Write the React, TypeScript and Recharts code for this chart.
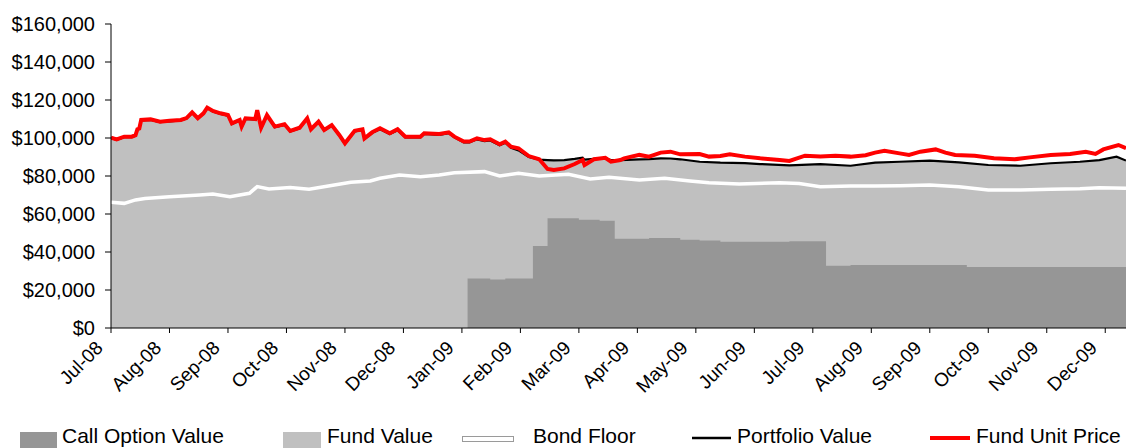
import React from 'react';
import { ComposedChart, Area, Line, XAxis, YAxis } from 'recharts';

// Month tick labels (one per month start)
const MONTH_LABELS = [
  'Jul-08', 'Aug-08', 'Sep-08', 'Oct-08', 'Nov-08', 'Dec-08',
  'Jan-09', 'Feb-09', 'Mar-09', 'Apr-09', 'May-09', 'Jun-09',
  'Jul-09', 'Aug-09', 'Sep-09', 'Oct-09', 'Nov-09', 'Dec-09',
];
const LAST_DATE = '2009-12-12';

// Y ticks, in $ thousands
const Y_TICKS = [0, 20, 40, 60, 80, 100, 120, 140, 160];

// Fund Unit Price ($ thousands)
const PRICE_DATES = [
  '2008-07-01', '2008-07-04', '2008-07-08', '2008-07-12', '2008-07-14', '2008-07-15', '2008-07-16', '2008-07-17',
  '2008-07-22', '2008-07-27', '2008-08-01', '2008-08-07', '2008-08-10', '2008-08-13', '2008-08-16', '2008-08-19',
  '2008-08-21', '2008-08-24', '2008-08-28', '2008-09-01', '2008-09-03', '2008-09-07', '2008-09-08', '2008-09-10',
  '2008-09-15', '2008-09-16', '2008-09-18', '2008-09-21', '2008-09-25', '2008-09-30', '2008-10-03', '2008-10-08',
  '2008-10-12', '2008-10-14', '2008-10-18', '2008-10-21', '2008-10-25', '2008-10-29', '2008-11-01', '2008-11-06',
  '2008-11-10', '2008-11-11', '2008-11-15', '2008-11-19', '2008-11-24', '2008-11-28', '2008-12-02', '2008-12-10',
  '2008-12-12', '2008-12-20', '2008-12-25', '2008-12-28', '2009-01-02', '2009-01-05', '2009-01-09', '2009-01-13',
  '2009-01-16', '2009-01-21', '2009-01-24', '2009-01-27', '2009-01-31', '2009-02-05', '2009-02-10', '2009-02-14',
  '2009-02-17', '2009-02-22', '2009-02-27', '2009-03-03', '2009-03-04', '2009-03-09', '2009-03-15', '2009-03-18',
  '2009-03-23', '2009-03-25', '2009-04-02', '2009-04-07', '2009-04-13', '2009-04-18', '2009-04-23', '2009-05-03',
  '2009-05-08', '2009-05-14', '2009-05-19', '2009-05-27', '2009-06-04', '2009-06-14', '2009-06-19', '2009-06-27',
  '2009-07-05', '2009-07-13', '2009-07-21', '2009-07-29', '2009-08-03', '2009-08-08', '2009-08-16', '2009-08-21',
  '2009-08-27', '2009-09-04', '2009-09-09', '2009-09-14', '2009-09-24', '2009-10-04', '2009-10-15', '2009-10-23',
  '2009-11-03', '2009-11-13', '2009-11-21', '2009-11-26', '2009-11-30', '2009-12-08', '2009-12-12',
];
const PRICE_VALUES = [
  100.2, 99.3, 100.7, 100.7, 101.5, 104.6, 105.0, 109.5,
  109.8, 108.6, 109.1, 109.5, 110.5, 113.5, 110.4, 113.0,
  116.0, 114.2, 113.0, 112.1, 107.7, 109.5, 106.0, 110.4,
  110.0, 114.7, 105.4, 112.1, 106.0, 107.2, 103.7, 105.4,
  110.4, 104.6, 108.6, 104.2, 106.8, 101.6, 97.2, 103.8,
  104.6, 99.8, 103.0, 105.1, 102.5, 104.6, 100.7, 100.7,
  102.5, 102.1, 103.0, 100.7, 98.1, 98.1, 99.8, 98.9,
  99.3, 96.7, 98.1, 95.4, 94.6, 90.5, 88.8, 83.7,
  83.2, 84.0, 86.3, 88.4, 85.8, 88.8, 89.6, 87.5,
  88.4, 89.3, 91.1, 90.2, 92.3, 92.8, 91.4, 91.6,
  90.2, 90.5, 91.4, 90.2, 89.3, 88.4, 87.9, 90.7,
  90.2, 90.7, 90.2, 90.9, 92.3, 93.3, 91.9, 91.1,
  92.8, 94.0, 92.3, 91.1, 90.7, 89.3, 88.8, 89.8,
  91.1, 91.6, 92.8, 91.6, 94.0, 96.3, 94.6,
];

// Portfolio Value ($ thousands) - also the top of the Fund Value area
const PORTFOLIO_DATES = [
  '2008-07-01', '2008-07-04', '2008-07-08', '2008-07-12', '2008-07-14', '2008-07-15', '2008-07-16', '2008-07-17',
  '2008-07-22', '2008-07-27', '2008-08-01', '2008-08-07', '2008-08-10', '2008-08-13', '2008-08-16', '2008-08-19',
  '2008-08-21', '2008-08-24', '2008-08-28', '2008-09-01', '2008-09-03', '2008-09-07', '2008-09-08', '2008-09-10',
  '2008-09-15', '2008-09-16', '2008-09-18', '2008-09-21', '2008-09-25', '2008-09-30', '2008-10-03', '2008-10-08',
  '2008-10-12', '2008-10-14', '2008-10-18', '2008-10-21', '2008-10-25', '2008-10-29', '2008-11-01', '2008-11-06',
  '2008-11-10', '2008-11-11', '2008-11-15', '2008-11-19', '2008-11-24', '2008-11-28', '2008-12-02', '2008-12-10',
  '2008-12-12', '2008-12-20', '2008-12-25', '2008-12-28', '2009-01-02', '2009-01-05', '2009-01-09', '2009-01-13',
  '2009-01-16', '2009-01-21', '2009-01-24', '2009-01-27', '2009-01-31', '2009-02-05', '2009-02-10', '2009-02-14',
  '2009-02-17', '2009-02-22', '2009-02-27', '2009-03-03', '2009-03-04', '2009-03-09', '2009-03-15', '2009-03-18',
  '2009-03-23', '2009-04-02', '2009-04-07', '2009-04-13', '2009-04-18', '2009-04-23', '2009-05-03', '2009-05-14',
  '2009-05-27', '2009-06-04', '2009-06-19', '2009-07-05', '2009-07-21', '2009-08-03', '2009-08-16', '2009-09-01',
  '2009-09-16', '2009-10-01', '2009-10-18', '2009-11-03', '2009-11-18', '2009-11-28', '2009-12-07', '2009-12-12',
];
const PORTFOLIO_VALUES = [
  99.9, 99.0, 100.4, 100.4, 101.2, 104.3, 104.7, 109.2,
  109.5, 108.3, 108.8, 109.2, 110.2, 113.2, 110.1, 112.7,
  115.7, 113.9, 112.7, 111.8, 107.4, 109.2, 105.7, 110.1,
  109.7, 114.4, 105.1, 111.8, 105.7, 106.9, 103.4, 105.1,
  110.1, 104.3, 108.3, 103.9, 106.5, 101.3, 96.9, 103.5,
  104.3, 99.5, 102.7, 104.6, 102.1, 104.1, 100.3, 100.3,
  102.1, 101.7, 102.6, 100.3, 97.7, 97.7, 99.3, 98.4,
  98.7, 96.2, 97.5, 94.8, 93.5, 90.0, 88.6, 88.4,
  88.2, 88.4, 89.0, 89.6, 88.6, 89.0, 89.3, 88.4,
  88.4, 88.8, 88.9, 89.3, 89.2, 88.8, 87.5, 87.0,
  86.8, 86.3, 85.6, 86.2, 85.4, 87.0, 87.5, 88.1,
  87.2, 85.8, 85.4, 86.7, 87.5, 88.4, 90.2, 88.1,
];

// Bond Floor ($ thousands)
const BOND_DATES = [
  '2008-07-01', '2008-07-08', '2008-07-14', '2008-07-19', '2008-08-01', '2008-08-17', '2008-08-24', '2008-09-02',
  '2008-09-12', '2008-09-16', '2008-09-22', '2008-10-03', '2008-10-13', '2008-10-24', '2008-11-04', '2008-11-14',
  '2008-11-19', '2008-11-29', '2008-12-10', '2008-12-20', '2008-12-28', '2009-01-13', '2009-01-21', '2009-01-31',
  '2009-02-10', '2009-02-24', '2009-03-07', '2009-03-17', '2009-04-02', '2009-04-15', '2009-04-28', '2009-05-08',
  '2009-05-24', '2009-06-14', '2009-06-24', '2009-07-05', '2009-07-21', '2009-08-03', '2009-08-16', '2009-09-01',
  '2009-09-16', '2009-10-01', '2009-10-18', '2009-11-03', '2009-11-18', '2009-11-28', '2009-12-12',
];
const BOND_VALUES = [
  66.2, 65.6, 67.4, 68.2, 69.1, 70.0, 70.5, 69.1,
  70.9, 74.4, 73.2, 74.0, 73.0, 74.9, 76.7, 77.4,
  78.8, 80.5, 79.6, 80.5, 81.7, 82.3, 80.0, 81.4,
  80.0, 80.9, 78.4, 79.3, 77.9, 78.8, 77.4, 76.5,
  75.8, 76.5, 76.1, 74.4, 74.7, 74.7, 74.9, 75.3,
  74.4, 72.6, 72.6, 73.0, 73.3, 73.8, 73.5,
];

// Call Option Value ($ thousands), stepped
const CALL_DATES = [
  '2009-01-04', '2009-01-16', '2009-01-24', '2009-02-07', '2009-02-14', '2009-03-01', '2009-03-12', '2009-03-20',
  '2009-04-07', '2009-04-23', '2009-05-03', '2009-05-14', '2009-06-19', '2009-07-08', '2009-07-21', '2009-09-20',
  '2009-12-12',
];
const CALL_VALUES = [
  26.0, 25.5, 26.0, 43.2, 57.7, 57.0, 56.5, 47.0,
  47.4, 46.5, 46.0, 45.4, 45.6, 32.8, 33.2, 32.1,
  32.2,
];

const FONT = '"Liberation Sans", Arial, Helvetica, sans-serif';

function monthIndex(iso: string): number {
  const [y, m, d] = iso.split('-').map(Number);
  const dim = new Date(y, m, 0).getDate();
  return (y - 2008) * 12 + (m - 7) + (d - 1) / dim;
}

const toSeries = (dates: string[], values: number[]) =>
  dates.map((d, i) => ({ t: monthIndex(d), v: values[i] }));

const priceData = toSeries(PRICE_DATES, PRICE_VALUES);
const portfolioData = toSeries(PORTFOLIO_DATES, PORTFOLIO_VALUES);
const fundData = toSeries(PORTFOLIO_DATES, PORTFOLIO_VALUES);
const bondData = toSeries(BOND_DATES, BOND_VALUES);
const callData = toSeries(CALL_DATES, CALL_VALUES);

const X_END = monthIndex(LAST_DATE);
const X_TICKS = MONTH_LABELS.map((_, i) => i);

const formatY = (v: number) => (v === 0 ? '$0' : `$${v},000`);

const XTick = (props: any) => {
  const { x, y, payload } = props;
  return (
    <text
      transform={`translate(${x - 7},${y + 16}) rotate(-45)`}
      textAnchor="end"
      fontSize={19}
      fontFamily={FONT}
      fill="#000"
    >
      {MONTH_LABELS[payload.value]}
    </text>
  );
};

export default function App() {
  return (
    <div style={{ position: 'absolute', left: 0, top: 0, width: 1126, height: 448, background: '#fff', overflow: 'hidden' }}>
      <ComposedChart width={1126} height={448} margin={{ top: 24, right: 0, bottom: 0, left: 0 }}>
        <XAxis
          type="number"
          dataKey="t"
          domain={[0, X_END]}
          ticks={X_TICKS}
          interval={0}
          allowDataOverflow
          height={120}
          tickSize={5}
          tickMargin={0}
          axisLine={{ stroke: '#000', strokeWidth: 1 }}
          tickLine={{ stroke: '#000', strokeWidth: 1 }}
          tick={<XTick />}
        />
        <YAxis
          type="number"
          domain={[0, 160]}
          ticks={Y_TICKS}
          interval={0}
          width={111}
          tickSize={6}
          tickMargin={10}
          tickFormatter={formatY}
          axisLine={{ stroke: '#000', strokeWidth: 1 }}
          tickLine={{ stroke: '#000', strokeWidth: 1 }}
          tick={{ fill: '#000', fontSize: 20, fontFamily: FONT }}
        />
        <Area
          data={fundData}
          dataKey="v"
          name="Fund Value"
          type="linear"
          fill="#C0C0C0"
          fillOpacity={1}
          stroke="none"
          isAnimationActive={false}
        />
        <Area
          data={callData}
          dataKey="v"
          name="Call Option Value"
          type="stepAfter"
          fill="#969696"
          fillOpacity={1}
          stroke="none"
          isAnimationActive={false}
        />
        <Line
          data={bondData}
          dataKey="v"
          name="Bond Floor"
          type="linear"
          stroke="#FFFFFF"
          strokeWidth={3.5}
          dot={false}
          activeDot={false}
          isAnimationActive={false}
        />
        <Line
          data={portfolioData}
          dataKey="v"
          name="Portfolio Value"
          type="linear"
          stroke="#000000"
          strokeWidth={2.2}
          dot={false}
          activeDot={false}
          isAnimationActive={false}
        />
        <Line
          data={priceData}
          dataKey="v"
          name="Fund Unit Price"
          type="linear"
          stroke="#FF0000"
          strokeWidth={4}
          dot={false}
          activeDot={false}
          isAnimationActive={false}
        />
      </ComposedChart>
      <svg width={1126} height={448} style={{ position: 'absolute', left: 0, top: 0, pointerEvents: 'none' }}>
        <g fontFamily={FONT} fontSize={21} fill="#000">
          <rect x={20} y={432} width={37} height={16} fill="#969696" />
          <text x={62} y={443}>Call Option Value</text>
          <rect x={283} y={432} width={38} height={16} fill="#C0C0C0" />
          <text x={327} y={443}>Fund Value</text>
          <rect x={462.5} y={436.5} width={51} height={5} fill="#FFFFFF" stroke="#9a9a9a" strokeWidth={1} />
          <text x={533} y={443}>Bond Floor</text>
          <line x1={692} y1={438} x2={731} y2={438} stroke="#000" strokeWidth={2.5} />
          <text x={737} y={443}>Portfolio Value</text>
          <line x1={930} y1={438} x2={970} y2={438} stroke="#FF0000" strokeWidth={4} />
          <text x={976} y={443}>Fund Unit Price</text>
        </g>
      </svg>
    </div>
  );
}
